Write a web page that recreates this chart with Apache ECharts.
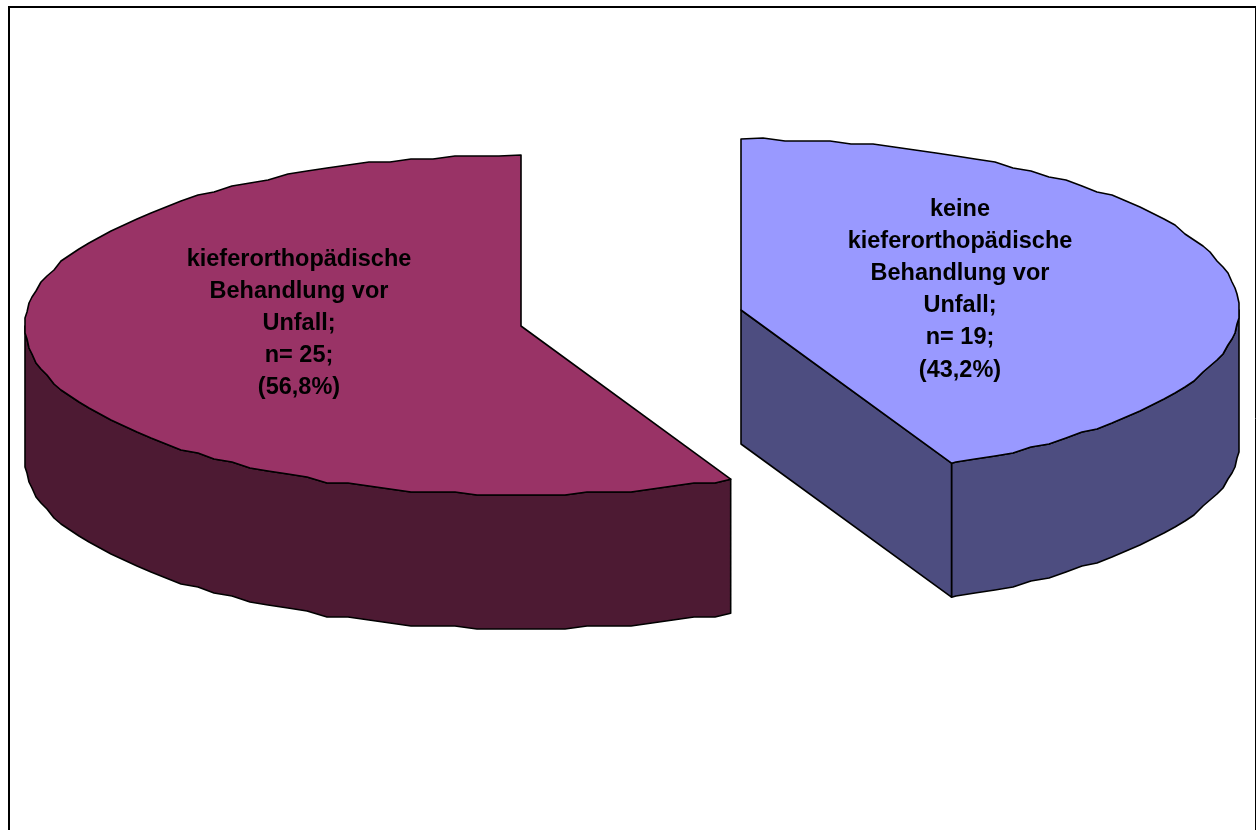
<!DOCTYPE html>
<html>
<head>
<meta charset="utf-8">
<style>html,body{margin:0;padding:0;background:#fff}#chart{width:1256px;height:830px}</style>
<script src="https://cdn.jsdelivr.net/npm/echarts@6/dist/echarts.min.js"></script>
</head>
<body>
<div id="chart"></div>
<script>
// Values shown in the two pie pieces
const categories = ['kieferorthopädische\nBehandlung vor\nUnfall;', 'keine\nkieferorthopädische\nBehandlung vor\nUnfall;'];
const counts = [25, 19];
const shares = [56.8, 43.2];
const shareLabels = ['56,8%', '43,2%'];

// Visual settings of each piece: apex on screen, radius, turning direction, colours, label anchor
const topColors = ['#993366', '#9999ff'];
const wallColors = ['#4d1a33', '#4d4d80'];
const apexes = [[521, 326], [741, 310]];
const radiiX = [496, 498];
const directions = [-1, 1];
const labelAnchors = [[299, 243], [960, 193]];
const RY_BACK = 171, RY_FRONT = 169, DEPTH = 134;
const ANGLE_STEP = 2.5;  // rim sampling in degrees
const GRID_Y = 3;        // coarse vertical raster that gives the outline its stepped look

// Elliptical rim point; angle in degrees, measured from 12 o'clock, clockwise.
// The small sine term stands in for the perspective of the tilted view.
function rim(i, deg) {
  const apex = apexes[i];
  const a = (deg + 0.7 * Math.sin(2 * deg * Math.PI / 180)) * Math.PI / 180;
  const c = Math.cos(a);
  return [apex[0] + radiiX[i] * Math.sin(a), apex[1] - (c >= 0 ? RY_BACK : RY_FRONT) * c];
}

// Samples sit on a shared angular lattice so the wall and top outlines coincide
function rimPath(i, from, to) {
  const dir = to >= from ? 1 : -1;
  const pts = [rim(i, from)];
  let k = Math.floor(from * dir / ANGLE_STEP) + 1;
  while (k * ANGLE_STEP < to * dir) {
    const p = rim(i, dir * k * ANGLE_STEP);
    pts.push([Math.round(p[0]), Math.round(p[1] / GRID_Y) * GRID_Y]);
    k++;
  }
  pts.push(rim(i, to));
  return pts;
}

const down = p => [p[0], p[1] + DEPTH];

function renderPiece(params, api) {
  const i = params.dataIndex;
  const share = api.value(1);
  const apex = apexes[i];
  const dir = directions[i];
  const sweep = dir * share / 100 * 360;
  const top = rimPath(i, 0, sweep);
  const end = rim(i, sweep);
  const line = { stroke: '#000', lineWidth: 1.6, lineJoin: 'round' };
  const children = [];

  // Outer wall: only the part of the rim on the near side of the widest point
  const wallRim = rimPath(i, dir * 90, sweep);
  children.push({
    type: 'polygon',
    shape: { points: wallRim.concat(wallRim.slice().reverse().map(down)) },
    style: Object.assign({ fill: wallColors[i] }, line)
  });

  // Cut face, visible only on the piece that opens towards the viewer
  if (dir > 0) {
    children.push({
      type: 'polygon',
      shape: { points: [apex, end, down(end), down(apex)] },
      style: Object.assign({ fill: wallColors[i] }, line)
    });
  }

  // Top surface
  children.push({
    type: 'polygon',
    shape: { points: [apex].concat(top) },
    style: Object.assign({ fill: topColors[i] }, line)
  });

  // Label
  children.push({
    type: 'text',
    style: {
      x: labelAnchors[i][0],
      y: labelAnchors[i][1],
      text: categories[i] + '\nn= ' + api.value(0) + ';\n(' + shareLabels[i] + ')',
      fill: '#000',
      align: 'center',
      verticalAlign: 'top',
      font: 'bold 23.5px "Liberation Sans", Arial, sans-serif',
      lineHeight: 32.2
    }
  });
  return { type: 'group', children };
}

const chart = echarts.init(document.getElementById('chart'), null, { renderer: 'canvas' });
chart.setOption({
  animation: false,
  backgroundColor: '#fff',
  graphic: [
    { type: 'line', shape: { x1: 9, y1: 7, x2: 9, y2: 830 }, style: { stroke: '#000', lineWidth: 2 } },
    { type: 'line', shape: { x1: 8, y1: 7, x2: 1256, y2: 7 }, style: { stroke: '#000', lineWidth: 2 } },
    { type: 'line', shape: { x1: 1255.5, y1: 7, x2: 1255.5, y2: 830 }, style: { stroke: '#000', lineWidth: 1 } }
  ],
  series: [{
    type: 'custom',
    coordinateSystem: 'none',
    renderItem: renderPiece,
    data: counts.map((c, i) => [c, shares[i]])
  }]
});
</script>
</body>
</html>
